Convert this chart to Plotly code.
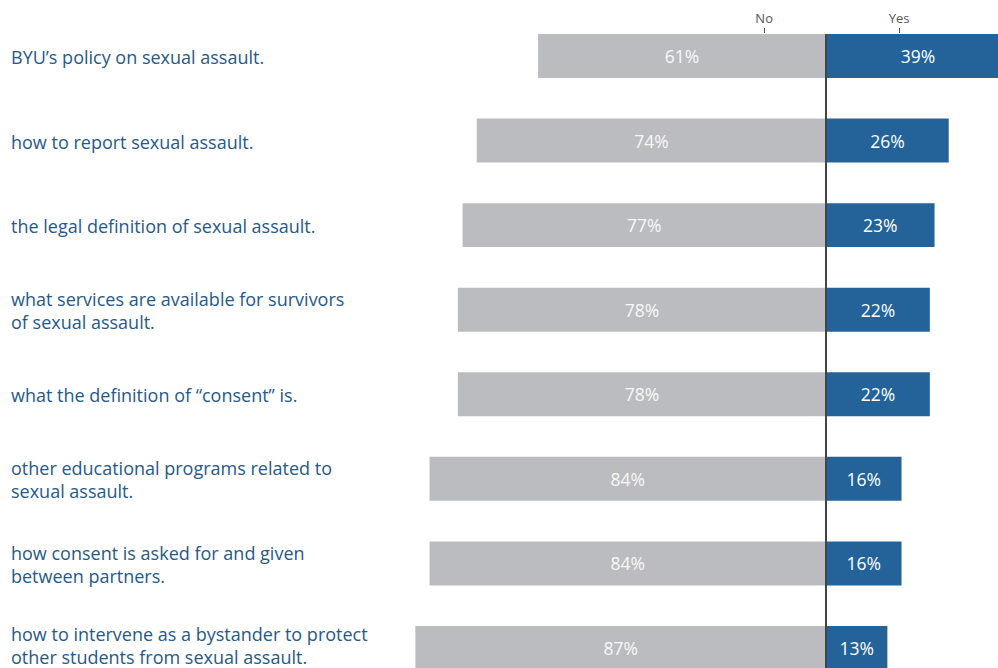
import plotly.graph_objects as go

# Survey items (each completes "I know about ...")
topics = [
    "BYU’s policy on sexual assault.",
    "how to report sexual assault.",
    "the legal definition of sexual assault.",
    "what services are available for survivors<br>of sexual assault.",
    "what the definition of “consent” is.",
    "other educational programs related to<br>sexual assault.",
    "how consent is asked for and given<br>between partners.",
    "how to intervene as a bystander to protect<br>other students from sexual assault.",
]
no_pct = [61, 74, 77, 78, 78, 84, 84, 87]
yes_pct = [39, 26, 23, 22, 22, 16, 16, 13]

GRAY = "#BBBCBF"
BLUE = "#236399"
LABEL = "#26598A"
FONT = "'Open Sans', Lato, sans-serif"

rows = list(range(len(topics)))

fig = go.Figure()
fig.add_trace(go.Bar(
    y=rows, x=[-v for v in no_pct], base=0, orientation="h",
    marker=dict(color=GRAY, line=dict(width=0)), width=0.52,
    text=[f"{v}%" for v in no_pct], textposition="inside",
    insidetextanchor="middle", textangle=0,
    textfont=dict(color="#F8F8F8", size=17.5, family=FONT),
    hoverinfo="skip", cliponaxis=True,
))
fig.add_trace(go.Bar(
    y=rows, x=yes_pct, base=0, orientation="h",
    marker=dict(color=BLUE, line=dict(width=0)), width=0.52,
    text=[f"{v}%" for v in yes_pct], textposition="inside",
    insidetextanchor="middle", textangle=0,
    textfont=dict(color="#FFFFFF", size=17.5, family=FONT),
    hoverinfo="skip", cliponaxis=True,
))

# Category labels on the left (the last one nudged up to stay on the page)
for i, t in enumerate(topics):
    fig.add_annotation(
        x=9 / 998, xref="paper", y=i, yref="y",
        yshift=2 if i == len(topics) - 1 else -1,
        text=t, showarrow=False, xanchor="left", yanchor="middle",
        align="left", font=dict(color=LABEL, size=18, family=FONT),
    )

# Zero line separating No / Yes
fig.add_shape(type="line", xref="x", yref="paper", x0=0, x1=0, y0=0, y1=1,
              line=dict(color="#444444", width=2), layer="above")

fig.update_layout(
    width=998, height=668,
    margin=dict(l=0, r=0, t=34, b=0),
    paper_bgcolor="white", plot_bgcolor="white",
    barmode="overlay", showlegend=False,
    xaxis=dict(
        range=[-175.0, 36.44], side="top",
        tickvals=[-13.1, 15.5], ticktext=["No", "Yes"],
        ticks="outside", ticklen=5, tickcolor="#555555", tickwidth=1,
        tickfont=dict(color="#555555", size=13, family=FONT),
        showgrid=False, zeroline=False, showline=False, fixedrange=True,
    ),
    yaxis=dict(
        range=[7.237, -0.26], showticklabels=False, showgrid=False,
        zeroline=False, showline=False, ticks="", fixedrange=True,
    ),
)

fig.write_html("out.html")
